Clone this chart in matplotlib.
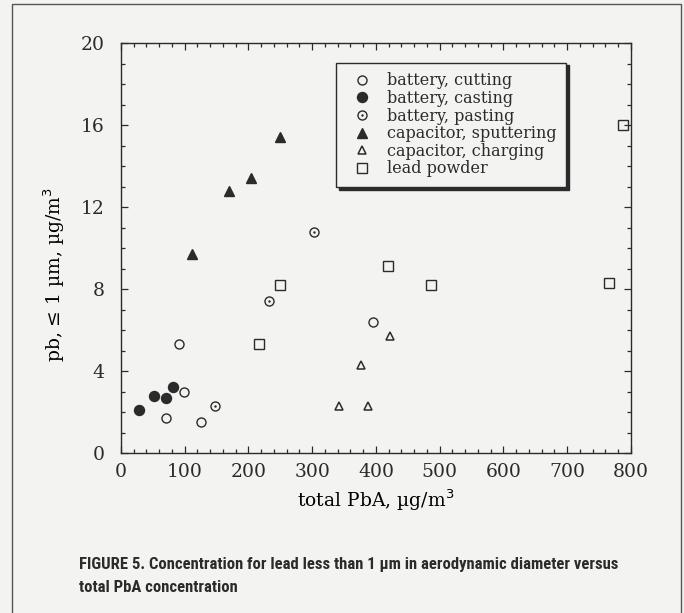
import matplotlib
matplotlib.use("Agg")
import matplotlib.pyplot as plt
from matplotlib import font_manager
from matplotlib.legend_handler import HandlerTuple
from matplotlib.patches import Rectangle

# values
cut_x = [71, 91, 99, 125, 396]
cut_y = [1.7, 5.3, 3.0, 1.5, 6.4]

cast_x = [29, 52, 71, 81]
cast_y = [2.1, 2.8, 2.7, 3.2]

paste_x = [147, 232, 302]
paste_y = [2.3, 7.4, 10.8]

sput_x = [112, 170, 204, 250]
sput_y = [9.7, 12.8, 13.4, 15.4]

charge_x = [342, 376, 388, 422]
charge_y = [2.3, 4.3, 2.3, 5.7]

powder_x = [216, 250, 419, 487, 766, 787]
powder_y = [5.3, 8.2, 9.1, 8.2, 8.3, 16.0]

labels = ["battery, cutting", "battery, casting", "battery, pasting",
          "capacitor, sputtering", "capacitor, charging", "lead powder"]

bg = "#f3f3f2"
ink = "#2b2b2b"

plt.rcParams["font.family"] = "DejaVu Serif"
plt.rcParams["text.color"] = ink
plt.rcParams["axes.edgecolor"] = ink
plt.rcParams["xtick.color"] = ink
plt.rcParams["ytick.color"] = ink

names = {f.name for f in font_manager.fontManager.ttflist}
cap_font = "DejaVu Sans"
for n in ["Liberation Sans Narrow", "Roboto Condensed", "Open Sans Condensed"]:
    if n in names:
        cap_font = n
        break

fig = plt.figure(figsize=(6.84, 6.13), dpi=100, facecolor=bg)
ax = fig.add_axes([0.1769, 0.261, 0.7456, 0.6688], facecolor=bg)

ms = 6.5
h_cut, = ax.plot(cut_x, cut_y, "o", ms=ms, mfc="none", mec=ink, mew=1.0)
h_cast, = ax.plot(cast_x, cast_y, "o", ms=ms + 0.7, mfc=ink, mec=ink)
h_paste, = ax.plot(paste_x, paste_y, "o", ms=ms, mfc="none", mec=ink, mew=1.0)
h_dot, = ax.plot(paste_x, paste_y, ".", ms=1.5, color=ink)
h_sput, = ax.plot(sput_x, sput_y, "^", ms=6.5, mfc=ink, mec=ink)
h_charge, = ax.plot(charge_x, charge_y, "^", ms=6, mfc="none", mec=ink, mew=1.1)
h_powder, = ax.plot(powder_x, powder_y, "s", ms=7, mfc="none", mec=ink, mew=1.0)

ax.set_xlim(0, 800)
ax.set_ylim(0, 20)
ax.set_xticks(range(0, 801, 100))
ax.set_xticks(range(0, 801, 20), minor=True)
ax.set_yticks(range(0, 21, 4))
ax.set_yticks(range(0, 21, 1), minor=True)
ax.tick_params(which="both", direction="in", top=True, right=True, width=0.9)
ax.tick_params(which="major", length=5)
ax.tick_params(which="minor", length=3)
ax.tick_params(axis="x", which="major", labelsize=13.5, pad=7)
ax.tick_params(axis="y", which="major", labelsize=13.5, pad=12)
for s in ax.spines.values():
    s.set_linewidth(1.0)

ax.set_xlabel("total PbA, µg/m$^3$", fontsize=13.5)
ax.xaxis.set_label_coords(0.5, -0.085)
ax.set_ylabel("pb, ≤ 1 µm, µg/m$^3$", fontsize=13.5)
ax.yaxis.set_label_coords(-0.105, 0.435)

leg = ax.legend([h_cut, h_cast, (h_paste, h_dot), h_sput, h_charge, h_powder],
                labels, handler_map={tuple: HandlerTuple(ndivide=1)},
                loc="upper left", bbox_to_anchor=(0.4216, 0.952),
                fontsize=11.5, labelspacing=0.04, handlelength=2.05,
                handletextpad=0.54, borderpad=0.6, borderaxespad=0,
                fancybox=False, framealpha=1, facecolor=bg, edgecolor=ink,
                shadow={"color": ink, "alpha": 1})
leg.get_frame().set_linewidth(1.0)

# page frame around the figure
fig.patches.append(Rectangle((12 / 684, -0.05), 669 / 684, 1.05 - 4 / 613,
                             transform=fig.transFigure, fill=False,
                             ec="#555555", lw=1.0))

fig.text(79 / 684, 1 - 569 / 613,
         "FIGURE 5. Concentration for lead less than 1 µm in aerodynamic diameter versus",
         family=[cap_font, "DejaVu Sans"], weight="bold", fontsize=12, color=ink)
fig.text(79 / 684, 1 - 592 / 613, "total PbA concentration",
         family=[cap_font, "DejaVu Sans"], weight="bold", fontsize=12, color=ink)

fig.savefig("out.png", dpi=100, facecolor=bg)
